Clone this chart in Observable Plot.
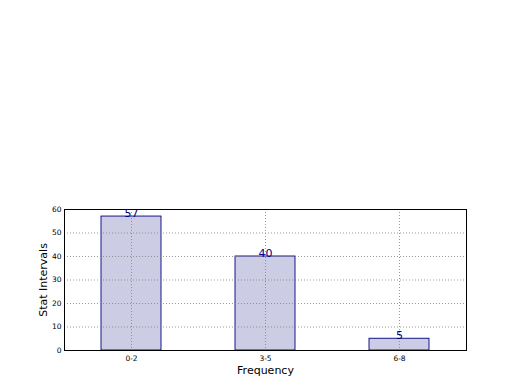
<!DOCTYPE html>
<html><head><meta charset="utf-8">
<script src="https://cdn.jsdelivr.net/npm/d3@7"></script>
<script src="https://cdn.jsdelivr.net/npm/@observablehq/plot@0.6"></script>
<style>body{margin:0;background:#fff}</style>
</head><body><div id="chart"></div>
<script>
const categories = ["0-2", "3-5", "6-8"];
const values = [57, 40, 5];
const yTicks = [0, 10, 20, 30, 40, 50, 60];
const yLabel = "Stat Intervals";
const xLabel = "Frequency";
const data = categories.map((c, i) => ({category: c, value: values[i]}));

const chart = Plot.plot({
  width: 520, height: 390,
  marginLeft: 64, marginRight: 54, marginTop: 209, marginBottom: 40,
  style: {fontFamily: "DejaVu Sans", fontSize: "7px", background: "white", color: "black"},
  x: {domain: categories, paddingInner: 0.55, paddingOuter: 0.275},
  y: {domain: [0, 60]},
  marks: [
    Plot.barY(data, {x: "category", y: "value", fill: "#ccccE5", stroke: "#000080", strokeWidth: 0.9}),
    Plot.gridY(yTicks, {stroke: "#808080", strokeOpacity: 0.8, strokeDasharray: "1,2"}),
    Plot.gridX(categories, {stroke: "#808080", strokeOpacity: 0.8, strokeDasharray: "1,2"}),
    Plot.text(data, {x: "category", y: "value", text: d => String(d.value), lineAnchor: "bottom", dy: 0, fill: "#000080", fontSize: 11}),
    Plot.frame({stroke: "black"}),
    Plot.axisY(yTicks, {tickSize: 0, tickPadding: 3, label: null, fontSize: 7.5}),
    Plot.axisX(categories, {tickSize: 0, tickPadding: 5, label: null, fontSize: 7.5}),
    Plot.text([yLabel], {frameAnchor: "left", dx: -21, rotate: -90, textAnchor: "middle", text: d => d, fontSize: 11}),
    Plot.text([xLabel], {frameAnchor: "bottom", dy: 23, textAnchor: "middle", text: d => d, fontSize: 11})
  ]
});
document.getElementById("chart").append(chart);
</script>
</body></html>
